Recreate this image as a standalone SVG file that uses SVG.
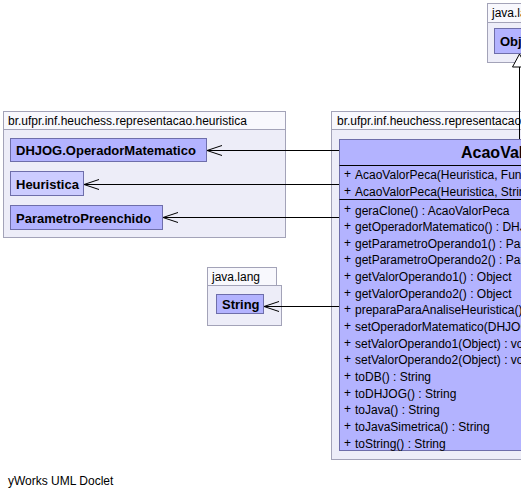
<svg xmlns="http://www.w3.org/2000/svg" width="521" height="497" viewBox="0 0 521 497">
<defs>
<style>
text{font-family:"Liberation Sans",Arial,sans-serif;fill:#000}
.pkg{fill:#ededf8;stroke:#a3a3b8;stroke-width:1}
.tab{fill:#f8f8fd;stroke:#a3a3b8;stroke-width:1}
.pl{font-size:12px}
.cls{fill:#b3b3ff;stroke:#6e6eaa;stroke-width:1}
.ifc{fill:#ccccff;stroke:#6e6eaa;stroke-width:1}
.cn{font-size:13px;font-weight:bold}
.m{font-size:12px}
.edge{stroke:#000;stroke-width:1;fill:none}
</style>
<marker id="open" viewBox="0 0 16 12" refX="15" refY="6" markerWidth="16" markerHeight="12" markerUnits="userSpaceOnUse" orient="auto">
<path d="M0,1 L15,6 L0,11" fill="none" stroke="#000" stroke-width="1"/>
</marker>
</defs>
<rect width="521" height="497" fill="#fff"/>

<g id="pkg-heuristica">
<rect class="pkg" x="3.5" y="111.5" width="282" height="126"/>
<rect class="tab" x="3.5" y="111.5" width="282" height="18"/>
<text class="pl" x="8" y="125">br.ufpr.inf.heuchess.representacao.heuristica</text>
</g>

<g id="pkg-main">
<rect class="pkg" x="331.5" y="111.5" width="200" height="348"/>
<rect class="tab" x="331.5" y="111.5" width="200" height="18"/>
<text class="pl" x="337" y="125">br.ufpr.inf.heuchess.representacao</text>
</g>

<g id="pkg-javalang-top">
<rect class="pkg" x="487.5" y="3.5" width="50" height="59"/>
<rect class="tab" x="487.5" y="3.5" width="50" height="19"/>
<text class="pl" x="492" y="17">java.lang</text>
</g>

<g id="pkg-javalang">
<rect class="pkg" x="207.5" y="285.5" width="74" height="40"/>
<rect class="tab" x="207.5" y="267.5" width="69" height="18"/>
<text class="pl" x="212" y="281">java.lang</text>
</g>

<g id="Object">
<rect class="cls" x="494.5" y="28.5" width="40" height="25"/>
<text class="cn" x="500" y="45.5">Object</text>
</g>

<g id="DHJOG.OperadorMatematico">
<rect class="cls" x="10.5" y="138.5" width="196" height="23"/>
<text class="cn" x="16" y="155">DHJOG.OperadorMatematico</text>
</g>

<g id="Heuristica">
<rect class="ifc" x="10.5" y="171.5" width="73" height="24"/>
<text class="cn" x="16" y="188.5">Heuristica</text>
</g>

<g id="ParametroPreenchido">
<rect class="cls" x="10.5" y="205.5" width="152" height="24"/>
<text class="cn" x="16" y="222.5">ParametroPreenchido</text>
</g>

<g id="String">
<rect class="cls" x="216.5" y="294.5" width="47" height="19"/>
<text class="cn" x="222" y="309">String</text>
</g>

<g id="AcaoValorPeca">
<rect class="cls" x="339.5" y="139.5" width="200" height="311"/>
<line class="edge" x1="339.5" y1="165.5" x2="539.5" y2="165.5" stroke="#6e6eaa"/>
<line class="edge" x1="339.5" y1="199.5" x2="539.5" y2="199.5" stroke="#6e6eaa"/>
<text x="461" y="158" style="font-size:16px;font-weight:bold">AcaoValorPeca</text>
<g class="m">
<text x="344" y="178">+</text><text x="355" y="179">AcaoValorPeca(Heuristica, FuncaoHeuristica)</text>
<text x="344" y="195">+</text><text x="355" y="196">AcaoValorPeca(Heuristica, String)</text>
<text x="344" y="213">+</text><text x="355" y="214.5">geraClone() : AcaoValorPeca</text>
<text x="344" y="230">+</text><text x="355" y="231">getOperadorMatematico() : DHJOG.OperadorMatematico</text>
<text x="344" y="246.5">+</text><text x="355" y="247.5">getParametroOperando1() : ParametroPreenchido</text>
<text x="344" y="263">+</text><text x="355" y="264">getParametroOperando2() : ParametroPreenchido</text>
<text x="344" y="280">+</text><text x="355" y="281">getValorOperando1() : Object</text>
<text x="344" y="296.5">+</text><text x="355" y="297.5">getValorOperando2() : Object</text>
<text x="344" y="313">+</text><text x="355" y="314">preparaParaAnaliseHeuristica() : void</text>
<text x="344" y="330">+</text><text x="355" y="331">setOperadorMatematico(DHJOG.OperadorMatematico) : void</text>
<text x="344" y="346.5">+</text><text x="355" y="347.5">setValorOperando1(Object) : void</text>
<text x="344" y="363">+</text><text x="355" y="364">setValorOperando2(Object) : void</text>
<text x="344" y="380">+</text><text x="355" y="381">toDB() : String</text>
<text x="344" y="396.5">+</text><text x="355" y="397.5">toDHJOG() : String</text>
<text x="344" y="413">+</text><text x="355" y="414">toJava() : String</text>
<text x="344" y="430">+</text><text x="355" y="431">toJavaSimetrica() : String</text>
<text x="344" y="446.5">+</text><text x="355" y="447.5">toString() : String</text>
</g>
</g>

<g id="connectors">
<line class="edge" x1="339" y1="150.5" x2="207" y2="150.5" marker-end="url(#open)"/>
<line class="edge" x1="339" y1="184.5" x2="84" y2="184.5" marker-end="url(#open)"/>
<line class="edge" x1="339" y1="217.5" x2="163" y2="217.5" marker-end="url(#open)"/>
<line class="edge" x1="339" y1="306.5" x2="264" y2="306.5" marker-end="url(#open)"/>
<line class="edge" x1="519.5" y1="139" x2="519.5" y2="67"/>
<path d="M519.5,54 L512.5,67 L526.5,67 Z" fill="#fff" stroke="#000" stroke-width="1"/>
</g>

<text x="8" y="485" style="font-size:12px">yWorks UML Doclet</text>
</svg>
